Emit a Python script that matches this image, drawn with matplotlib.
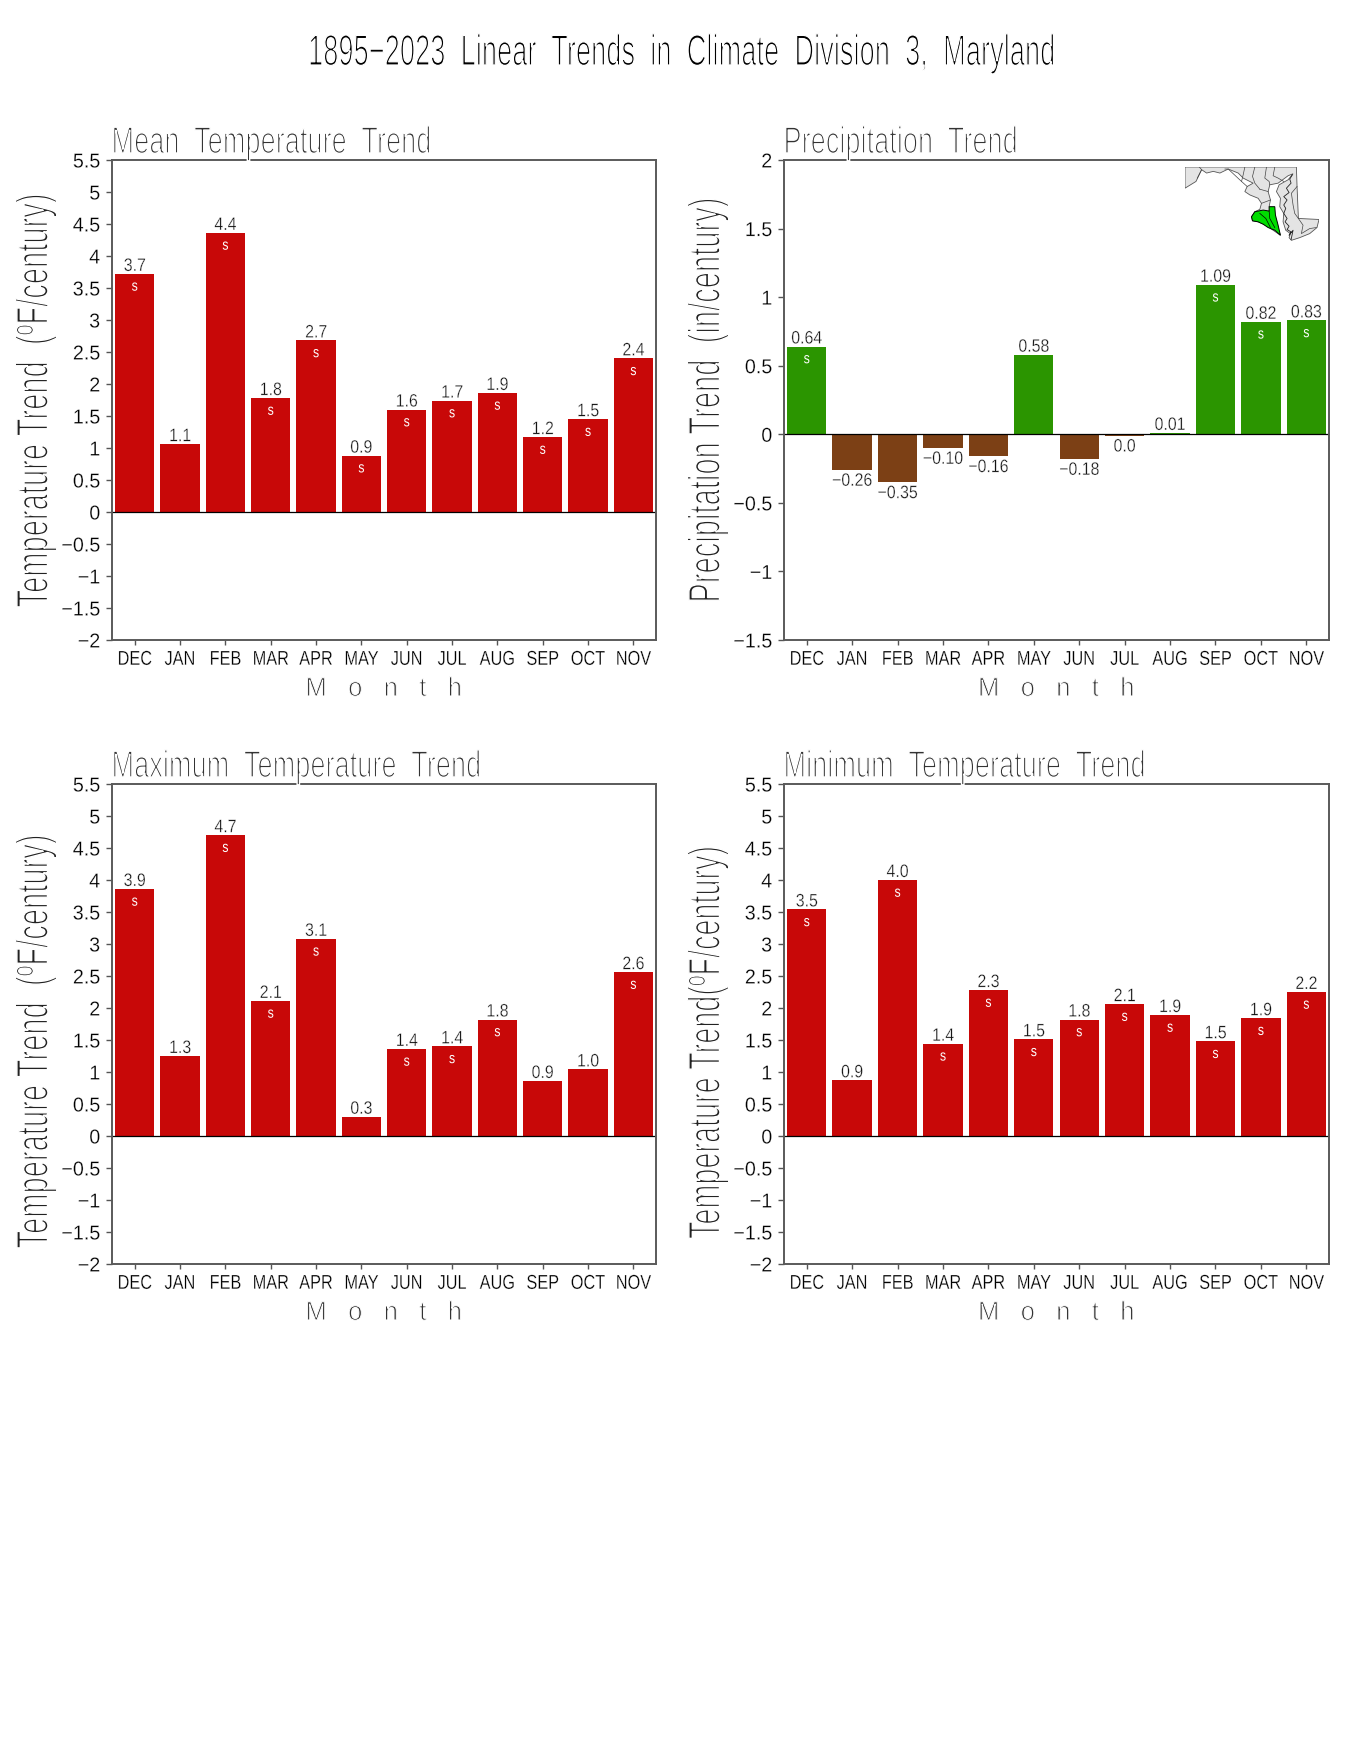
import numpy as np
import matplotlib
matplotlib.use("Agg")
import matplotlib.pyplot as plt
from matplotlib.patheffects import AbstractPathEffect
from matplotlib.transforms import Affine2D

plt.rcParams['font.family'] = ['Liberation Sans', 'DejaVu Sans']

months = ["DEC", "JAN", "FEB", "MAR", "APR", "MAY", "JUN", "JUL", "AUG", "SEP", "OCT", "NOV"]

mean_vals = [3.72, 1.06, 4.36, 1.78, 2.68, 0.88, 1.60, 1.74, 1.86, 1.17, 1.45, 2.40]
mean_labels = ["3.7", "1.1", "4.4", "1.8", "2.7", "0.9", "1.6", "1.7", "1.9", "1.2", "1.5", "2.4"]
mean_sig = [1, 0, 1, 1, 1, 1, 1, 1, 1, 1, 1, 1]

precip_vals = [0.64, -0.26, -0.35, -0.10, -0.16, 0.58, -0.18, -0.01, 0.01, 1.09, 0.82, 0.83]
precip_labels = ["0.64", "\u22120.26", "\u22120.35", "\u22120.10", "\u22120.16", "0.58", "\u22120.18", "0.0", "0.01", "1.09", "0.82", "0.83"]
precip_sig = [1, 0, 0, 0, 0, 0, 0, 0, 0, 1, 1, 1]

max_vals = [3.86, 1.25, 4.70, 2.11, 3.08, 0.30, 1.36, 1.40, 1.82, 0.86, 1.04, 2.56]
max_labels = ["3.9", "1.3", "4.7", "2.1", "3.1", "0.3", "1.4", "1.4", "1.8", "0.9", "1.0", "2.6"]
max_sig = [1, 0, 1, 1, 1, 0, 1, 1, 1, 0, 0, 1]

min_vals = [3.54, 0.87, 4.00, 1.44, 2.28, 1.51, 1.82, 2.06, 1.89, 1.48, 1.84, 2.25]
min_labels = ["3.5", "0.9", "4.0", "1.4", "2.3", "1.5", "1.8", "2.1", "1.9", "1.5", "1.9", "2.2"]
min_sig = [1, 0, 1, 1, 1, 1, 1, 1, 1, 1, 1, 1]

temp_ticks = np.arange(-2, 5.51, 0.5)
precip_ticks = np.arange(-1.5, 2.01, 0.5)

md_x = [75, 410, 412, 416, 478, 472, 450, 420, 395, 388, 392, 378, 370, 372, 360, 362, 350, 358, 385, 400,
        385, 355, 330, 325, 332, 328, 345, 352, 362, 340, 318, 295, 278, 275, 285, 300, 305, 295, 270, 255,
        262, 280, 250, 235, 205, 180, 160, 140, 125, 108, 75]
md_y = [52, 52, 110, 205, 208, 232, 250, 262, 270, 262, 250, 240, 215, 190, 170, 145, 125, 105, 90, 72,
        78, 100, 105, 125, 150, 170, 195, 225, 255, 240, 225, 215, 212, 200, 185, 178, 160, 145, 135, 125,
        110, 100, 85, 70, 58, 70, 65, 70, 60, 95, 115]
div3_x = [328, 345, 347, 355, 362, 345, 325, 310, 295, 278, 275, 285, 310, 328]
div3_y = [170, 170, 195, 225, 255, 240, 232, 222, 215, 212, 200, 185, 180, 183]
county_lines = [
    ([118, 125, 112], [52, 60, 85]),
    ([195, 205, 245], [58, 58, 95]),
    ([255, 250, 245, 262], [52, 75, 95, 110]),
    ([285, 278, 285, 300], [52, 80, 100, 118]),
    ([320, 315, 328, 330], [52, 85, 95, 105]),
    ([345, 340, 355, 372], [52, 78, 85, 95]),
    ([412, 395, 400, 405, 416], [110, 130, 165, 190, 205]),
    ([300, 325], [118, 125]),
    ([305, 332], [160, 150]),
    ([416, 430, 425, 450, 470], [205, 225, 250, 235, 232]),
]
bay_x = [398, 390, 394, 380, 388, 372, 382, 372, 378, 372, 382, 376, 388, 382, 394, 388, 400, 394]
bay_y = [75, 88, 100, 115, 128, 140, 150, 165, 175, 190, 205, 215, 228, 238, 245, 255, 240, 268]
div3_inner = [([300, 318, 332], [190, 205, 232]), ([328, 330, 345], [183, 205, 232])]

RED = "#c80808"
GREEN = "#2b9500"
BROWN = "#7c4015"
W, H = 1360, 1760


class Thin(AbstractPathEffect):
    # squeeze glyphs sideways and shave the outline so the text looks like a stroke font
    def __init__(self, sx, ha="center", erode=0.0, bg="white"):
        super().__init__()
        self.sx, self.ha, self.erode, self.bg = sx, ha, erode, bg

    def draw_path(self, renderer, gc, tpath, affine, rgbFace=None):
        ext = tpath.get_extents()
        a = {"left": ext.x0, "center": (ext.x0 + ext.x1) / 2, "right": ext.x1}[self.ha]
        aff = Affine2D().translate(-a, 0).scale(self.sx, 1).translate(a, 0) + affine
        renderer.draw_path(gc, tpath, aff, rgbFace)
        if self.erode > 0:
            gc0 = renderer.new_gc()
            gc0.copy_properties(gc)
            gc0.set_foreground(self.bg)
            gc0.set_linewidth(self.erode)
            renderer.draw_path(gc0, tpath, aff, None)
            gc0.restore()


def make_panel(box, title, ylabel, vals, labels, sig, yticks, ylim, pos_color, neg_color, ylab_sx=0.656, ylab_shift=0):
    x0, y0, x1, y1 = box
    ax = fig.add_axes([x0 / W, 1 - y1 / H, (x1 - x0) / W, (y1 - y0) / H])
    x = np.arange(1, 13)
    colors = [pos_color if v >= 0 else neg_color for v in vals]
    ax.bar(x, vals, width=0.867, color=colors, linewidth=0)
    ax.axhline(0, color="black", lw=0.9)
    ax.set_xlim(0.5, 12.5)
    ax.set_ylim(*ylim)
    ax.set_xticks(x)
    ax.set_xticklabels(months, fontsize=14.5, color="#000000")
    ax.set_yticks(yticks)
    ax.set_yticklabels([f"{t:g}".replace("-", "\u2212") for t in yticks], fontsize=14.5, color="#000000")
    ax.tick_params(axis="x", length=3.6, width=1.0, color="#555555", pad=3.5)
    ax.tick_params(axis="y", length=4.5, width=1.0, color="#555555", pad=4)
    for lab in ax.get_xticklabels():
        lab.set_path_effects([Thin(0.81, "center", 0.2)])
    for lab in ax.get_yticklabels():
        lab.set_path_effects([Thin(0.98, "right", 0.2)])
    for s in ax.spines.values():
        s.set_linewidth(1.4)
        s.set_color("#5a5a5a")
    span = ylim[1] - ylim[0]
    for xi, v, lab, s in zip(x, vals, labels, sig):
        if v >= 0:
            t = ax.text(xi, v + span * 0.00625, lab, ha="center", va="baseline", fontsize=13, color="#111111")
        else:
            t = ax.text(xi, v - span * 0.006, lab, ha="center", va="top", fontsize=13, color="#111111")
        t.set_path_effects([Thin(0.88, "center", 0.25)])
        if s:
            t = ax.text(xi, v - span * 0.0265, "s", ha="center", va="center", fontsize=11, color="white")
            t.set_path_effects([Thin(0.8, "center")])
    t = ax.text(0.47, ylim[1] + span * 0.0146, title, ha="left", va="baseline", fontsize=27, color="#333333")
    t.set_path_effects([Thin(0.725, "left", 1.0)])
    t = ax.text(0.5, -0.102, "M   o   n   t   h", transform=ax.transAxes, ha="center", va="center", fontsize=19, color="#333333")
    t.set_path_effects([Thin(0.97, "center", 0.7)])
    t = fig.text((x0 - 76) / W, 1 - ((y0 + y1) / 2 + ylab_shift) / H, ylabel, rotation=90, ha="center", va="center", fontsize=32, color="#222222")
    t.set_path_effects([Thin(ylab_sx, "center", 1.0)])
    return ax


fig = plt.figure(figsize=(W / 100, H / 100), dpi=100)
t = fig.text(681 / W, 1 - 54 / H, "1895\u22122023  Linear  Trends  in  Climate  Division  3,  Maryland", ha="center", va="center",
             fontsize=31, color="#000000")
t.set_path_effects([Thin(0.634, "center", 0.9)])

t_lim = (-2, 5.5)
p_lim = (-1.5, 2)
make_panel((112, 160, 656, 640), "Mean  Temperature  Trend", "Temperature Trend  (\u00baF/century)", mean_vals, mean_labels, mean_sig, temp_ticks, t_lim, RED, RED)
make_panel((784, 160, 1329, 640), "Precipitation  Trend", "Precipitation Trend  (in/century)", precip_vals, precip_labels, precip_sig, precip_ticks, p_lim, GREEN, BROWN)
make_panel((112, 784, 656, 1264), "Maximum  Temperature  Trend", "Temperature Trend  (\u00baF/century)", max_vals, max_labels, max_sig, temp_ticks, t_lim, RED, RED, ylab_shift=17)
make_panel((784, 784, 1329, 1264), "Minimum  Temperature  Trend", "Temperature Trend(\u00baF/century)", min_vals, min_labels, min_sig, temp_ticks, t_lim, RED, RED, ylab_sx=0.648, ylab_shift=18)

# locator map, in crop coordinates
m = fig.add_axes([1185 / W, 1 - 241 / H, 134 / W, 74 / H])
m.fill(md_x, md_y, facecolor="#e4e4e4", edgecolor="#555555", lw=0.6)
for lx, ly in county_lines:
    m.plot(lx, ly, color="#444444", lw=0.5)
m.plot(bay_x, bay_y, color="#222222", lw=0.6)
m.fill(div3_x, div3_y, facecolor="#00dd00", edgecolor="black", lw=0.7)
for lx, ly in div3_inner:
    m.plot(lx, ly, color="black", lw=0.5)
m.set_xlim(75, 478)
m.set_ylim(272, 52)
m.axis("off")

fig.savefig("out.png", dpi=100)
